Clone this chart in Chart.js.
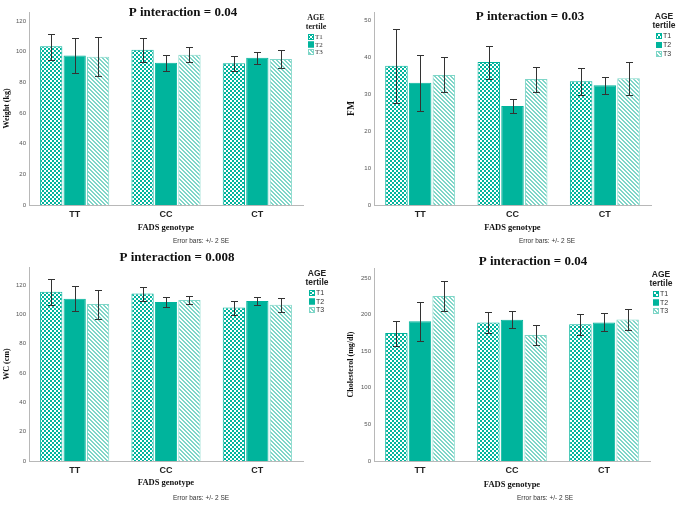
<!DOCTYPE html>
<html>
<head>
<meta charset="utf-8">
<title>FADS genotype x AGE tertile</title>
<script src="https://cdn.jsdelivr.net/npm/chart.js@4.4.1/dist/chart.umd.min.js"></script>
<style>
  body { margin: 0; background: #fff; }
  .panel { position: absolute; }
</style>
</head>
<body>
<div class="panel" style="left:0;top:0"><canvas id="c1" width="338" height="250"></canvas></div>
<div class="panel" style="left:338px;top:0"><canvas id="c2" width="338" height="250"></canvas></div>
<div class="panel" style="left:0;top:250px"><canvas id="c3" width="338" height="256"></canvas></div>
<div class="panel" style="left:338px;top:250px"><canvas id="c4" width="338" height="256"></canvas></div>
<script>
const categories = ['TT', 'CC', 'CT'];
const tertiles = ['T1', 'T2', 'T3'];

// rows = T1, T2, T3 ; columns = TT, CC, CT
const weightMean = [[103.5, 101.3, 92.4], [97.6, 92.8, 96.1], [96.7, 98.0, 95.2]];
const weightLow  = [[94.8, 93.5, 87.4], [86.3, 87.4, 92.2], [84.1, 93.0, 89.1]];
const weightHigh = [[111.5, 108.7, 97.2], [108.7, 97.8, 100.0], [109.6, 103.0, 100.9]];
const weightTicks = [0, 20, 40, 60, 80, 100, 120];

const fmMean = [[37.8, 38.8, 33.6], [33.2, 26.9, 32.5], [35.3, 34.2, 34.4]];
const fmLow  = [[27.7, 34.3, 29.9], [25.6, 25.0, 30.1], [30.6, 30.7, 29.8]];
const fmHigh = [[47.7, 43.2, 37.1], [40.6, 28.7, 34.8], [40.1, 37.5, 38.8]];
const fmTicks = [0, 10, 20, 30, 40, 50];

const wcMean = [[115.5, 114.3, 104.6], [110.7, 108.4, 109.1], [107.1, 109.8, 106.6]];
const wcLow  = [[106.4, 109.3, 99.6], [102.1, 105.0, 106.2], [96.9, 106.9, 101.9]];
const wcHigh = [[124.1, 118.9, 109.3], [119.6, 111.8, 111.8], [116.6, 112.5, 110.9]];
const wcTicks = [0, 20, 40, 60, 80, 100, 120];

const cholMean = [[174.9, 189.4, 186.7], [190.8, 193.1, 189.4], [225.4, 172.1, 193.5]];
const cholLow  = [[156.6, 174.4, 172.6], [163.9, 181.2, 177.6], [204.9, 158.5, 178.5]];
const cholHigh = [[191.3, 203.6, 200.4], [217.2, 204.5, 201.7], [245.4, 185.3, 208.1]];
const cholTicks = [0, 50, 100, 150, 200, 250];

const TEAL = '#00b49c';
const LIGHT = '#7fd6c8';
const SANS = '"Liberation Sans", Arial, sans-serif';
const SERIF = '"Liberation Serif", "Times New Roman", serif';

function makeTile(draw) {
    const c = document.createElement('canvas');
    c.width = 4; c.height = 4;
    const x = c.getContext('2d');
    x.fillStyle = '#fff';
    x.fillRect(0, 0, 4, 4);
    draw(x);
    return x.createPattern(c, 'repeat');
}

function fills() {
    const checker = makeTile(x => {
        x.fillStyle = TEAL;
        x.fillRect(0, 0, 2, 2);
        x.fillRect(2, 2, 2, 2);
    });
    const hatch = makeTile(x => {
        x.fillStyle = LIGHT;
        for (let i = 0; i < 4; i++) {
            x.fillRect(i, i, 1, 1);
            x.fillRect((i + 1) % 4, i, 1, 1);
        }
    });
    return [checker, TEAL, hatch];
}

// error bars drawn from each bar element's own x and the y scale
const errorBars = {
    id: 'errorBars',
    afterDatasetsDraw(chart) {
        const p = chart.options.plugins.panel;
        const y = chart.scales.y;
        const ctx = chart.ctx;
        ctx.save();
        ctx.strokeStyle = '#333';
        ctx.lineWidth = 1;
        chart.data.datasets.forEach((ds, d) => {
            chart.getDatasetMeta(d).data.forEach((bar, i) => {
                const x = Math.round(bar.x) + 0.5;
                const top = Math.round(y.getPixelForValue(p.high[d][i])) + 0.5;
                const bot = Math.round(y.getPixelForValue(p.low[d][i])) + 0.5;
                ctx.beginPath();
                ctx.moveTo(x, top); ctx.lineTo(x, bot);
                ctx.moveTo(x - 3.5, top); ctx.lineTo(x + 3.5, top);
                ctx.moveTo(x - 3.5, bot); ctx.lineTo(x + 3.5, bot);
                ctx.stroke();
            });
        });
        ctx.restore();
    }
};

const panelText = {
    id: 'panelText',
    afterDraw(chart) {
        const p = chart.options.plugins.panel;
        const a = chart.chartArea;
        const ctx = chart.ctx;
        ctx.save();
        ctx.textAlign = 'center';
        ctx.textBaseline = 'middle';
        ctx.fillStyle = '#111';
        ctx.font = 'bold 13px ' + SERIF;
        ctx.fillText(p.title, p.titleX, p.titleY);

        ctx.font = 'bold ' + p.yTitleSize + 'px ' + SERIF;
        ctx.save();
        ctx.translate(p.yTitleX, (a.top + a.bottom) / 2);
        ctx.rotate(-Math.PI / 2);
        ctx.fillText(p.yTitle, 0, 0);
        ctx.restore();

        ctx.font = 'bold 8.5px ' + SERIF;
        ctx.fillText('FADS genotype', (a.left + a.right) / 2, p.xTitleY);

        ctx.fillStyle = '#333';
        ctx.font = '6.5px ' + SANS;
        ctx.fillText('Error bars: +/- 2 SE', p.noteX, p.noteY);

        // legend
        const lf = p.legendSerif ? SERIF : SANS;
        ctx.fillStyle = '#222';
        ctx.font = 'bold ' + (p.legendSerif ? 8 : 8.5) + 'px ' + lf;
        ctx.fillText('AGE', p.legX + 8, p.legY);
        ctx.fillText('tertile', p.legX + 8, p.legY + 9);
        ctx.textAlign = 'left';
        ctx.font = '7px ' + lf;
        chart.data.datasets.forEach((ds, d) => {
            const yy = p.legY + 19 + d * p.legStep;
            ctx.fillStyle = ds.backgroundColor;
            ctx.fillRect(p.legX, yy - 3, 6, 6);
            ctx.strokeStyle = ds.borderColor;
            ctx.strokeRect(p.legX + 0.5, yy - 2.5, 5, 5);
            ctx.fillStyle = '#333';
            ctx.fillText(tertiles[d], p.legX + 7, yy + 0.5);
        });
        ctx.restore();
    }
};

function drawPanel(id, p) {
    const ctx = document.getElementById(id).getContext('2d');
    const bg = fills();
    const borders = [TEAL, TEAL, LIGHT];
    new Chart(ctx, {
        type: 'bar',
        data: {
            labels: categories,
            datasets: tertiles.map((t, d) => ({
                label: t,
                data: p.mean[d],
                backgroundColor: bg[d],
                borderColor: borders[d],
                borderWidth: 1,
                categoryPercentage: 0.77,
                barPercentage: 0.95
            }))
        },
        options: {
            responsive: false,
            animation: false,
            layout: { padding: { left: 0, right: p.right, top: p.top, bottom: 0 } },
            plugins: {
                legend: { display: false },
                tooltip: { enabled: false },
                panel: p
            },
            scales: {
                x: {
                    grid: { display: false, drawTicks: false },
                    border: { display: true, color: '#b8b8b8' },
                    ticks: { color: '#222', padding: 4, font: { family: SANS, size: 9, weight: 'bold' } },
                    afterFit(s) { s.height = p.bottom; }
                },
                y: {
                    min: 0,
                    max: p.max,
                    grid: { display: false, drawTicks: false },
                    border: { display: true, color: '#b8b8b8' },
                    ticks: { color: '#555', padding: 3, font: { family: SANS, size: 6 } },
                    afterBuildTicks(s) { s.ticks = p.ticks.map(v => ({ value: v })); },
                    afterFit(s) { s.width = p.left; }
                }
            }
        },
        plugins: [errorBars, panelText]
    });
}

drawPanel('c1', {
    mean: weightMean, low: weightLow, high: weightHigh, ticks: weightTicks, max: 125.9,
    title: 'P interaction = 0.04', yTitle: 'Weight (kg)', yTitleSize: 8,
    left: 29, right: 35, top: 12, bottom: 45,
    titleX: 183, titleY: 13, yTitleX: 7, xTitleY: 228, noteX: 201, noteY: 241,
    legX: 308, legY: 18, legStep: 7.5, legendSerif: true
});
drawPanel('c2', {
    mean: fmMean, low: fmLow, high: fmHigh, ticks: fmTicks, max: 52.4,
    title: 'P interaction = 0.03', yTitle: 'FM', yTitleSize: 9.5,
    left: 36, right: 25, top: 12, bottom: 45,
    titleX: 192, titleY: 17, yTitleX: 14, xTitleY: 228, noteX: 209, noteY: 241,
    legX: 318, legY: 17, legStep: 9, legendSerif: false
});
drawPanel('c3', {
    mean: wcMean, low: wcLow, high: wcHigh, ticks: wcTicks, max: 132.3,
    title: 'P interaction = 0.008', yTitle: 'WC (cm)', yTitleSize: 8,
    left: 29, right: 35, top: 17, bottom: 45,
    titleX: 177, titleY: 8, yTitleX: 7, xTitleY: 233, noteX: 201, noteY: 248,
    legX: 309, legY: 24, legStep: 8.5, legendSerif: false
});
drawPanel('c4', {
    mean: cholMean, low: cholLow, high: cholHigh, ticks: cholTicks, max: 263.7,
    title: 'P interaction = 0.04', yTitle: 'Cholesterol (mg/dl)', yTitleSize: 8,
    left: 36, right: 26, top: 18, bottom: 45,
    titleX: 195, titleY: 12, yTitleX: 13, xTitleY: 235, noteX: 207, noteY: 248,
    legX: 315, legY: 25, legStep: 8.5, legendSerif: false
});
</script>
</body>
</html>
